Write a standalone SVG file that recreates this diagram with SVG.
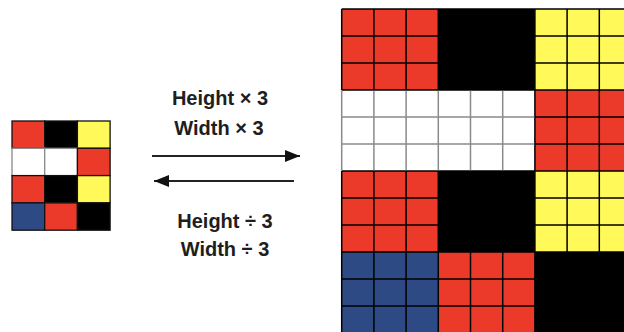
<svg xmlns="http://www.w3.org/2000/svg" width="624" height="332" viewBox="0 0 624 332">
<style>
.r{fill:#EC3A2A}.k{fill:#000}.y{fill:#FFF95A}.w{fill:#fff}.b{fill:#2D4A84}
.cell{stroke:#111;stroke-width:1.3}
.wc{stroke:#8a8a8a;stroke-width:1.3}
.gd{fill:none;stroke:#000;stroke-width:1.5}
.gl{fill:none;stroke:#8a8a8a;stroke-width:1.5}
.lbl{font-family:"Liberation Sans",Arial,sans-serif;font-weight:bold;font-size:20px;fill:#1e1e1e;text-anchor:middle}
.arr{stroke:#222;stroke-width:2;fill:none}
</style>
<defs>
<marker id="ah" viewBox="0 0 10 10" refX="10" refY="5" markerWidth="15" markerHeight="12" markerUnits="userSpaceOnUse" orient="auto" preserveAspectRatio="none">
<path d="M0,0 L10,5 L0,10 Z" fill="#111"/>
</marker>
</defs>
<rect width="624" height="332" fill="#fff"/>
<g id="small-grid">
<rect class="r cell" x="12" y="121" width="32.7" height="27.3"/>
<rect class="k cell" x="44.7" y="121" width="32.7" height="27.3"/>
<rect class="y cell" x="77.4" y="121" width="32.7" height="27.3"/>
<rect class="w wc" x="12" y="148.3" width="32.7" height="27.3"/>
<rect class="w wc" x="44.7" y="148.3" width="32.7" height="27.3"/>
<rect class="r cell" x="77.4" y="148.3" width="32.7" height="27.3"/>
<rect class="r cell" x="12" y="175.6" width="32.7" height="27.3"/>
<rect class="k cell" x="44.7" y="175.6" width="32.7" height="27.3"/>
<rect class="y cell" x="77.4" y="175.6" width="32.7" height="27.3"/>
<rect class="b cell" x="12" y="202.9" width="32.7" height="27.3"/>
<rect class="r cell" x="44.7" y="202.9" width="32.7" height="27.3"/>
<rect class="k cell" x="77.4" y="202.9" width="32.7" height="27.3"/>
</g>
<g id="large-grid">
<rect class="r" x="341.7" y="9" width="96.6" height="81"/>
<rect class="k" x="438.3" y="9" width="96.6" height="81"/>
<rect class="y" x="534.9" y="9" width="96.6" height="81"/>
<rect class="w" x="341.7" y="90" width="193.2" height="81"/>
<rect class="r" x="534.9" y="90" width="96.6" height="81"/>
<rect class="r" x="341.7" y="171" width="96.6" height="81"/>
<rect class="k" x="438.3" y="171" width="96.6" height="81"/>
<rect class="y" x="534.9" y="171" width="96.6" height="81"/>
<rect class="b" x="341.7" y="252" width="96.6" height="81"/>
<rect class="r" x="438.3" y="252" width="96.6" height="81"/>
<rect class="k" x="534.9" y="252" width="96.6" height="81"/>
<path class="gd" d="M341.7,9H632M341.7,36H632M341.7,63H632M341.7,90H632M534.9,117H632M534.9,144H632M341.7,171H632M341.7,198H632M341.7,225H632M341.7,252H632M341.7,279H632M341.7,306H632
M341.7,9V90M373.9,9V90M406.1,9V90M438.3,9V90M470.5,9V90M502.7,9V90M534.9,9V333M567.1,9V333M599.3,9V333
M341.7,171V333M373.9,171V333M406.1,171V333M438.3,171V333M470.5,171V333M502.7,171V333"/>
<path class="gl" d="M341.7,117H534.2M341.7,144H534.2M373.9,90.7V170.3M406.1,90.7V170.3M438.3,90.7V170.3M470.5,90.7V170.3M502.7,90.7V170.3M341.7,90.7V170.3"/>
</g>
<g id="connectors">
<line class="arr" x1="152" y1="156" x2="300" y2="156" marker-end="url(#ah)"/>
<line class="arr" x1="294" y1="181" x2="154" y2="181" marker-end="url(#ah)"/>
</g>
<g id="labels">
<text class="lbl" x="220" y="105">Height × 3</text>
<text class="lbl" x="219" y="135">Width × 3</text>
<text class="lbl" x="225" y="228">Height ÷ 3</text>
<text class="lbl" x="225" y="256">Width ÷ 3</text>
</g>
</svg>
